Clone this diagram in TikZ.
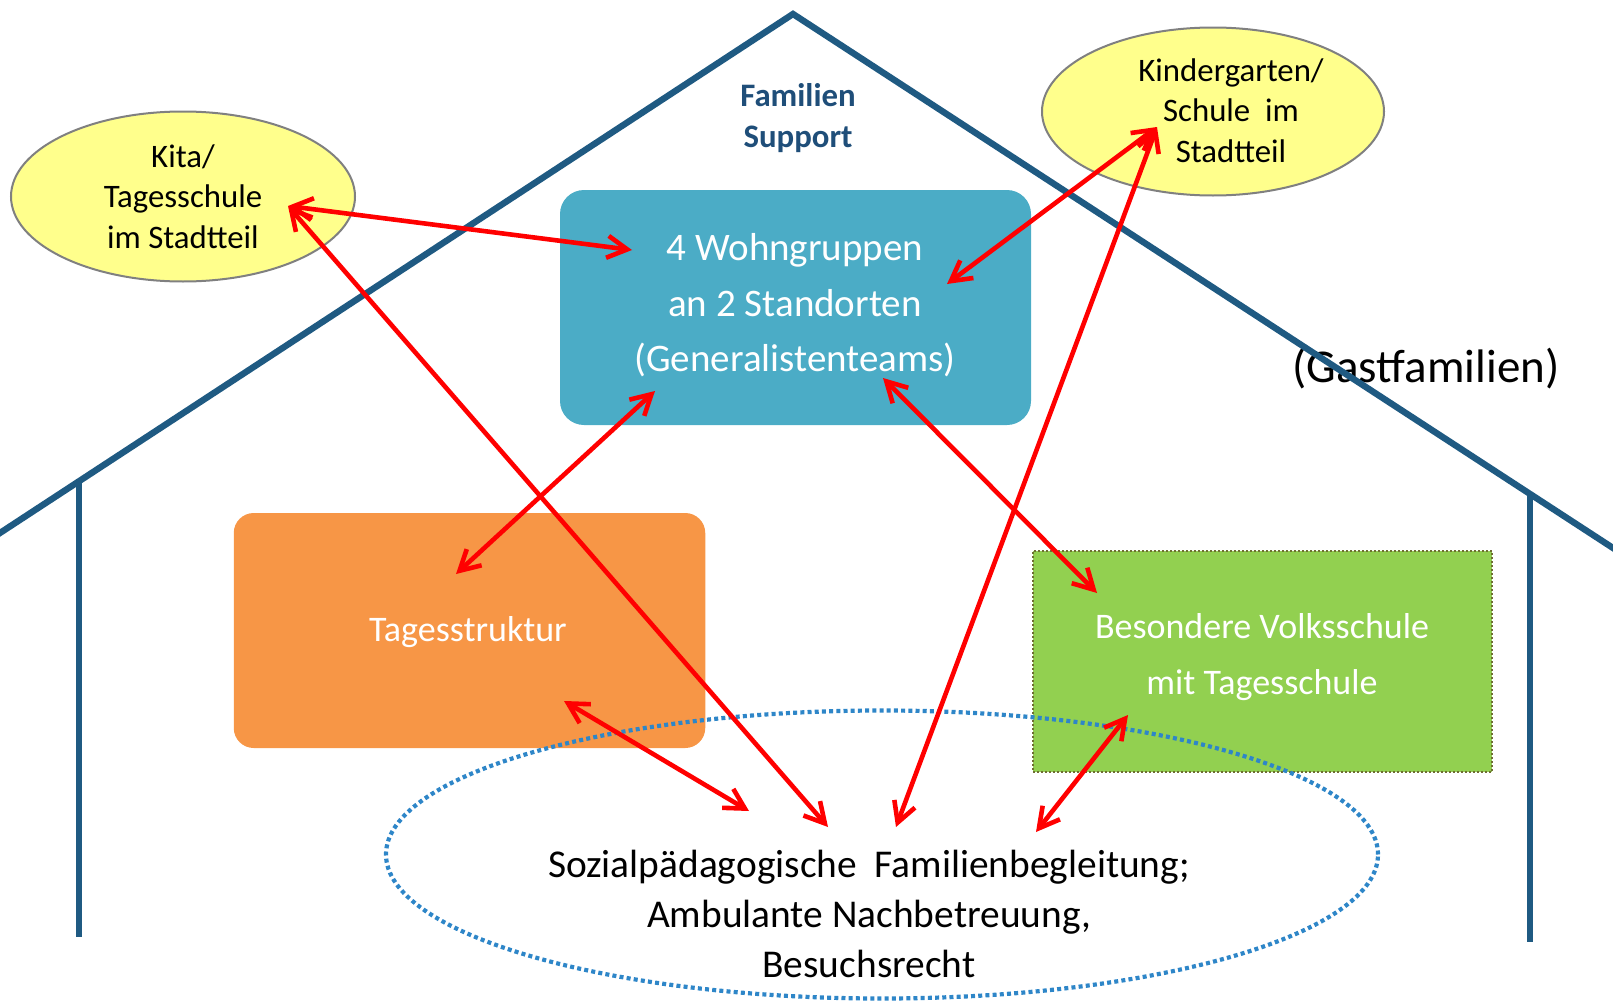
\documentclass[tikz,border=0pt]{standalone}
\usepackage{fontspec}
\setmainfont{Carlito}
\usetikzlibrary{shapes.geometric,arrows.meta}
\definecolor{roofc}{RGB}{31,90,130}
\definecolor{famc}{RGB}{31,78,121}
\definecolor{yellowc}{RGB}{255,255,140}
\definecolor{ellborder}{RGB}{128,128,128}
\definecolor{bluebox}{RGB}{75,172,198}
\definecolor{orangebox}{RGB}{247,150,70}
\definecolor{greenbox}{RGB}{146,208,80}
\definecolor{greenborder}{RGB}{110,110,50}
\definecolor{dotblue}{RGB}{46,134,200}
\begin{document}
\begin{tikzpicture}[x=0.5pt,y=-0.5pt,
  roof/.style={draw=roofc, line width=3.2pt, line join=miter},
  bubble/.style={ellipse, draw=ellborder, line width=1pt, fill=yellowc, inner sep=0pt},
  bubbletext/.style={align=center, font=\fontsize{16.4}{20.25}\selectfont},
  boxtext/.style={align=center, text=white},
  arr/.style={draw=red, line width=2.3pt, {Straight Barb[length=10pt,width=11pt]}-{Straight Barb[length=10pt,width=11pt]}}
]
\useasboundingbox (0,0) rectangle (1613,1001);
% Gastfamilien label (under roof line)
\node[font=\fontsize{23.5}{28}\selectfont] (gast) at (1426,369) {(Gastfamilien)};
% house outline
\begin{scope}
\clip (0,0) rectangle (1613,1001);
\draw[roof] (-10,539.5) -- (793,14) -- (1623,554.5);
\draw[roof] (79,481) -- (79,937);
\draw[roof] (1530,494) -- (1530,942);
\end{scope}
% Familien Support
\node[align=center, text=famc, font=\bfseries\fontsize{16.4}{20.5}\selectfont] (fam) at (798,118.5) {Familien\\Support};
% bubbles
\node[bubble, minimum width=172pt, minimum height=85pt] (kita) at (183,196.5) {};
\node[bubbletext] (kitat) at (183,196.5) {Kita/\\Tagesschule\\im Stadtteil};
\node[bubble, minimum width=171pt, minimum height=84pt] (kind) at (1213,111.5) {};
\node[bubbletext] (kindt) at (1231,110.5) {Kindergarten/\\Schule~ im\\Stadtteil};
% boxes
\node[fill=bluebox, rounded corners=12pt, minimum width=235.5pt, minimum height=117.5pt, inner sep=0pt] (wohn) at (795.5,307.5) {};
\node[boxtext, font=\fontsize{19.5}{27.75}\selectfont] (wohnt) at (795,305.5) {4 Wohngruppen\\an 2 Standorten\\(Generalistenteams)};
\node[fill=orangebox, rounded corners=10pt, minimum width=235.75pt, minimum height=117.5pt, inner sep=0pt] (tages) at (469.5,630.5) {};
\node[boxtext, font=\fontsize{18}{27}\selectfont] (tagest) at (468,632.5) {Tagesstruktur};
\node[fill=greenbox, draw=greenborder, line width=1pt, dash pattern=on 1pt off 1pt, minimum width=229.5pt, minimum height=110.5pt, inner sep=0pt] (volk) at (1262.5,661.5) {};
\node[boxtext, font=\fontsize{18}{27.75}\selectfont] (volkt) at (1262,657) {Besondere Volksschule\\mit Tagesschule};
% dotted ellipse
\node[ellipse, draw=dotblue, line width=2.1pt, dash pattern=on 2pt off 1.6pt, minimum width=496pt, minimum height=144pt, inner sep=0pt] (sozial) at (882,854.5) {};
\node[align=center, font=\fontsize{19.7}{25}\selectfont] (sozialt) at (869,913.5) {Sozialpädagogische~ Familienbegleitung;\\Ambulante Nachbetreuung,\\Besuchsrecht};
% arrow endpoints
\coordinate (p1) at (288,206);
\coordinate (p2) at (632,250);
\coordinate (p3) at (828,827);
\coordinate (p4) at (1157,127);
\coordinate (p5) at (947,284);
\coordinate (p6) at (896,827);
\coordinate (p7) at (655,391);
\coordinate (p8) at (456,574);
\coordinate (p9) at (883,378);
\coordinate (p10) at (1097,593);
\coordinate (p11) at (564,701);
\coordinate (p12) at (749,811);
\coordinate (p13) at (1128,715);
\coordinate (p14) at (1036,832);
% arrows
\draw[arr] (p1) -- (p2);
\draw[arr] (p1) -- (p3);
\draw[arr] (p4) -- (p5);
\draw[arr] (p4) -- (p6);
\draw[arr] (p7) -- (p8);
\draw[arr] (p9) -- (p10);
\draw[arr] (p11) -- (p12);
\draw[arr] (p13) -- (p14);
\end{tikzpicture}
\end{document}
